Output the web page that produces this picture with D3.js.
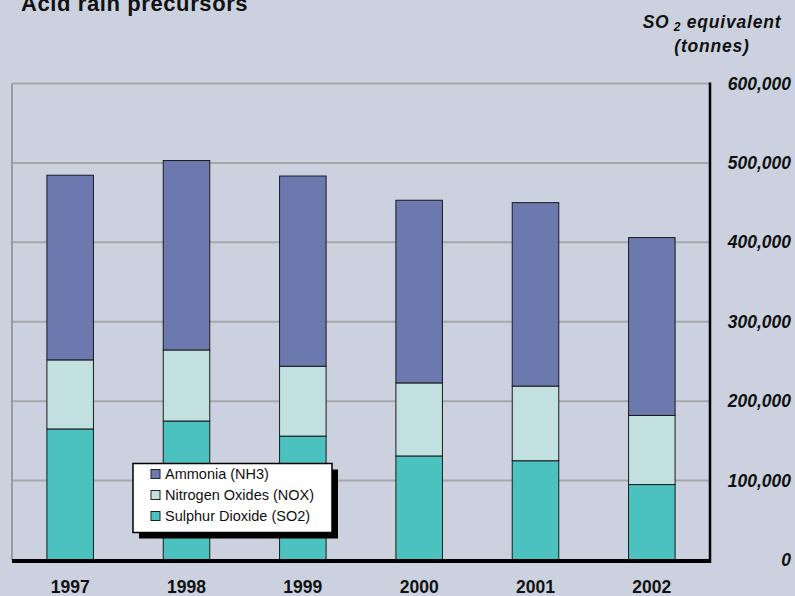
<!DOCTYPE html>
<html>
<head>
<meta charset="utf-8">
<script src="https://cdn.jsdelivr.net/npm/d3@7/dist/d3.min.js"></script>
<style>
  html, body { margin: 0; padding: 0; background: #CBD1DF; }
  svg { display: block; font-family: "Liberation Sans", Arial, Helvetica, sans-serif; }
</style>
</head>
<body>
<svg id="chart" width="795" height="596"></svg>
<script>
const years = ["1997", "1998", "1999", "2000", "2001", "2002"];
const seriesNames = ["Sulphur Dioxide (SO2)", "Nitrogen Oxides (NOX)", "Ammonia (NH3)"];
const so2 = [165000, 175000, 156000, 131000, 125000, 95000];
const nox = [87000, 89500, 88000, 92000, 94000, 87000];
const nh3 = [232500, 238500, 239500, 230000, 231000, 224000];
const yTicks = [0, 100000, 200000, 300000, 400000, 500000, 600000];
const colors = ["#4CC2C0", "#C2E0E0", "#6C79AE"];

(function () {
const svg = d3.select("#chart");
const pLeft = 12, pRight = 710, pTop = 83.5, pBottom = 560;

const x = d3.scaleBand().domain(years).range([pLeft, pRight]).paddingInner(0.6).paddingOuter(0.3);
const y = d3.scaleLinear().domain([0, 600000]).range([pBottom, pTop]);

const rows = years.map((yr, i) => ({ year: yr, so2: so2[i], nox: nox[i], nh3: nh3[i] }));
const stack = d3.stack().keys(["so2", "nox", "nh3"]);
const layers = stack(rows);

// gridlines
svg.append("g").selectAll("line").data(yTicks.filter(d => d > 0)).join("line")
  .attr("x1", pLeft).attr("x2", pRight)
  .attr("y1", d => y(d)).attr("y2", d => y(d))
  .attr("stroke", "#A6A7AB").attr("stroke-width", 2);

// left axis line (gray)
svg.append("line").attr("x1", pLeft).attr("x2", pLeft).attr("y1", pTop).attr("y2", pBottom)
  .attr("stroke", "#9A9BA0").attr("stroke-width", 2);

// bars
svg.append("g").selectAll("g").data(layers).join("g")
  .attr("fill", (d, i) => colors[i])
  .selectAll("rect").data(d => d).join("rect")
  .attr("x", d => x(d.data.year))
  .attr("width", x.bandwidth())
  .attr("y", d => y(d[1]))
  .attr("height", d => y(d[0]) - y(d[1]))
  .attr("stroke", "#1a1a1a").attr("stroke-width", 1);

// right axis
svg.append("line").attr("x1", pRight).attr("x2", pRight).attr("y1", pTop - 1).attr("y2", pBottom + 3)
  .attr("stroke", "#000").attr("stroke-width", 2.5);
// bottom thick axis
svg.append("line").attr("x1", pLeft).attr("x2", pRight + 1).attr("y1", pBottom + 1).attr("y2", pBottom + 1)
  .attr("stroke", "#000").attr("stroke-width", 4);

// y tick labels on right
const fmt = d3.format(",");
svg.append("g").selectAll("text").data(yTicks).join("text")
  .attr("x", 791).attr("y", d => y(d))
  .attr("dy", "0.35em")
  .attr("text-anchor", "end")
  .attr("font-size", 17.5).attr("font-weight", "bold").attr("font-style", "italic")
  .attr("fill", "#111")
  .text(d => fmt(d));

// x labels
svg.append("g").selectAll("text").data(years).join("text")
  .attr("x", d => x(d) + x.bandwidth() / 2).attr("y", 593)
  .attr("text-anchor", "middle")
  .attr("font-size", 17.5).attr("font-weight", "bold")
  .attr("fill", "#111")
  .text(d => d);

// title
svg.append("text").attr("x", 21).attr("y", 11)
  .attr("font-size", 22).attr("font-weight", "bold").attr("fill", "#111")
  .attr("letter-spacing", 0.6)
  .text("Acid rain precursors");

// axis title
const at = svg.append("text").attr("x", 712).attr("y", 28)
  .attr("text-anchor", "middle").attr("letter-spacing", 0.8)
  .attr("font-size", 17.5).attr("font-weight", "bold").attr("font-style", "italic").attr("fill", "#111");
at.append("tspan").text("SO");
at.append("tspan").attr("font-size", 12).attr("dy", 3).text(" 2");
at.append("tspan").attr("dy", -3).text(" equivalent");
svg.append("text").attr("x", 712).attr("y", 51.5)
  .attr("text-anchor", "middle").attr("letter-spacing", 0.8)
  .attr("font-size", 17.5).attr("font-weight", "bold").attr("font-style", "italic").attr("fill", "#111")
  .text("(tonnes)");

// legend
const lg = svg.append("g");
const lx = 133, ly = 463.5, lw = 199, lh = 69;
lg.append("rect").attr("x", lx + 6).attr("y", ly + 6).attr("width", lw).attr("height", lh).attr("fill", "#000");
lg.append("rect").attr("x", lx).attr("y", ly).attr("width", lw).attr("height", lh)
  .attr("fill", "#fff").attr("stroke", "#000").attr("stroke-width", 1.5);
const legendOrder = [2, 1, 0];
legendOrder.forEach((si, r) => {
  const cy = ly + 10.5 + r * 21;
  lg.append("rect").attr("x", 151).attr("y", cy - 4.5).attr("width", 9).attr("height", 9)
    .attr("fill", colors[si]).attr("stroke", "#222").attr("stroke-width", 1);
  lg.append("text").attr("x", 165).attr("y", cy).attr("dy", "0.36em")
    .attr("font-size", 14.5).attr("fill", "#111").text(seriesNames[si]);
});
})();
</script>
</body>
</html>
